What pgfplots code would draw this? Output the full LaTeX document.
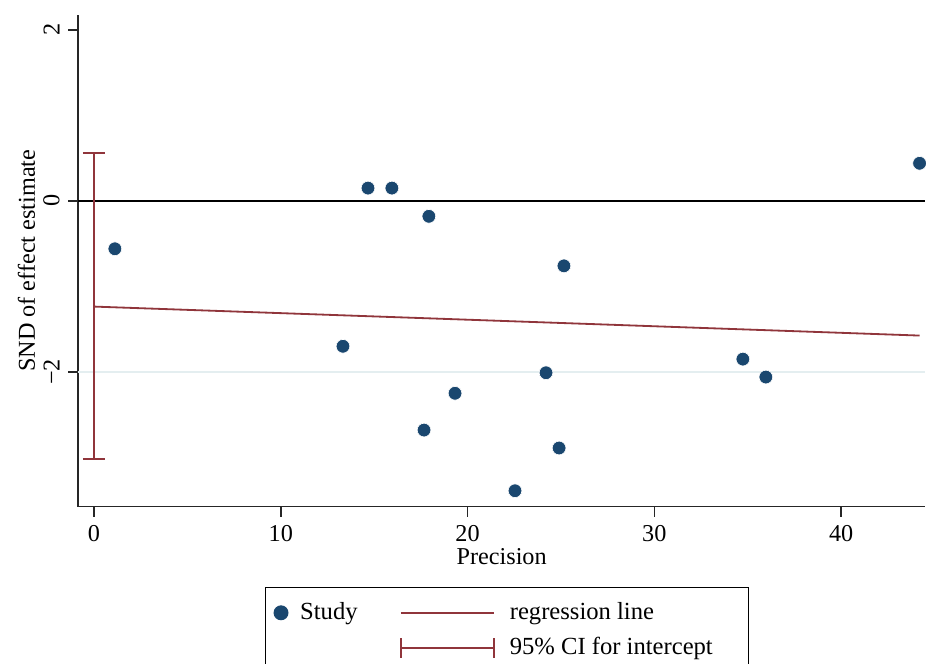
\documentclass[border=0pt,12pt]{standalone}
\usepackage{fontspec}
\setmainfont{Liberation Serif}
\usepackage{pgfplots}
\pgfplotsset{compat=1.18}

\definecolor{stnavy}{RGB}{26,71,111}
\definecolor{stmaroon}{RGB}{144,53,59}
\definecolor{stgrid}{RGB}{228,238,240}

\begin{document}
\begin{tikzpicture}
\begin{axis}[
    scale only axis,
    width=419.7pt, height=243.7pt,
    xmin=-0.84, xmax=44.49,
    ymin=-3.575, ymax=2.175,
    axis lines*=left,
    axis line style={black!85, line width=0.8pt},
    tick align=outside,
    major tick length=5pt,
    tick style={black!85, line width=0.8pt},
    xtick={0,10,20,30,40},
    xticklabels={0,10,20,30,40},
    ytick={-2,0,2},
    yticklabels={−2,0,2},
    yticklabel style={rotate=90, anchor=south},
    xlabel={Precision},
    ylabel={SND of effect estimate},
    xlabel style={at={(axis description cs:0.5,0)}, anchor=north, yshift=-16.5pt},
    ylabel style={at={(axis description cs:-0.0512,0.5)}, anchor=base, rotate=0},
    clip=false,
    legend columns=2,
    legend cell align=left,
    legend style={at={(axis description cs:0.506,-0.163)}, anchor=north,
        draw=black, line width=0.6pt, inner xsep=2pt, inner ysep=5.5pt,
        row sep=3pt, /tikz/column 2/.style={column sep=19pt},
        font=\fontsize{12.2}{14}\selectfont},
]
% grid line at -2 and reference line at 0
\addplot[stgrid, line width=1pt, forget plot] coordinates {(-0.84,-2) (44.49,-2)};
\addplot[black, line width=1.1pt, forget plot] coordinates {(-0.84,0) (44.49,0)};

% 95% CI for intercept
\addplot[stmaroon, line width=0.9pt, forget plot] coordinates {(0,0.56) (0,-3.02)};
\addplot[stmaroon, line width=0.9pt, forget plot] coordinates {(-0.6,0.56) (0.6,0.56)};
\addplot[stmaroon, line width=0.9pt, forget plot] coordinates {(-0.6,-3.02) (0.6,-3.02)};

% regression line
\addplot[stmaroon, line width=0.9pt, forget plot] coordinates {(0,-1.236) (44.2,-1.575)};

% studies
\addplot[only marks, mark=*, mark size=3.4pt, stnavy, mark options={draw=white, line width=0.3pt, fill=stnavy}, forget plot] coordinates {
    (1.12,-0.56) (14.67,0.15) (15.95,0.15) (17.93,-0.18) (25.16,-0.76)
    (13.33,-1.70) (19.33,-2.25) (17.67,-2.68) (24.20,-2.01) (24.90,-2.89)
    (22.54,-3.39) (34.74,-1.85) (35.97,-2.06) (44.20,0.44)
};

\addlegendimage{legend image code/.code={
    \path[draw=none] (-5.8pt,0pt) -- (7.5pt,0pt);
    \fill[stnavy] (0pt,0pt) circle (3.4pt);}}
\addlegendentry{Study}
\addlegendimage{legend image code/.code={
    \path[draw=none] (0pt,0pt) -- (52pt,0pt);
    \draw[stmaroon, line width=0.9pt] (0pt,0pt) -- (46pt,0pt);}}
\addlegendentry{regression line}
\addlegendimage{empty legend}
\addlegendentry{}
\addlegendimage{legend image code/.code={
    \path[draw=none] (0pt,0pt) -- (52pt,0pt);
    \draw[stmaroon, line width=0.9pt] (0pt,0pt) -- (46pt,0pt);
    \draw[stmaroon, line width=0.9pt] (0pt,-5pt) -- (0pt,5pt);
    \draw[stmaroon, line width=0.9pt] (46pt,-5pt) -- (46pt,5pt);}}
\addlegendentry{95\% CI for intercept\hspace*{13.5pt}}

\coordinate (bl) at (rel axis cs:0,0);
\coordinate (tr) at (rel axis cs:1,1);
\end{axis}
\pgfresetboundingbox
\path ([xshift=-38.8pt,yshift=-78pt]bl) rectangle ([xshift=0.5pt,yshift=7.4pt]tr);
\end{tikzpicture}
\end{document}
